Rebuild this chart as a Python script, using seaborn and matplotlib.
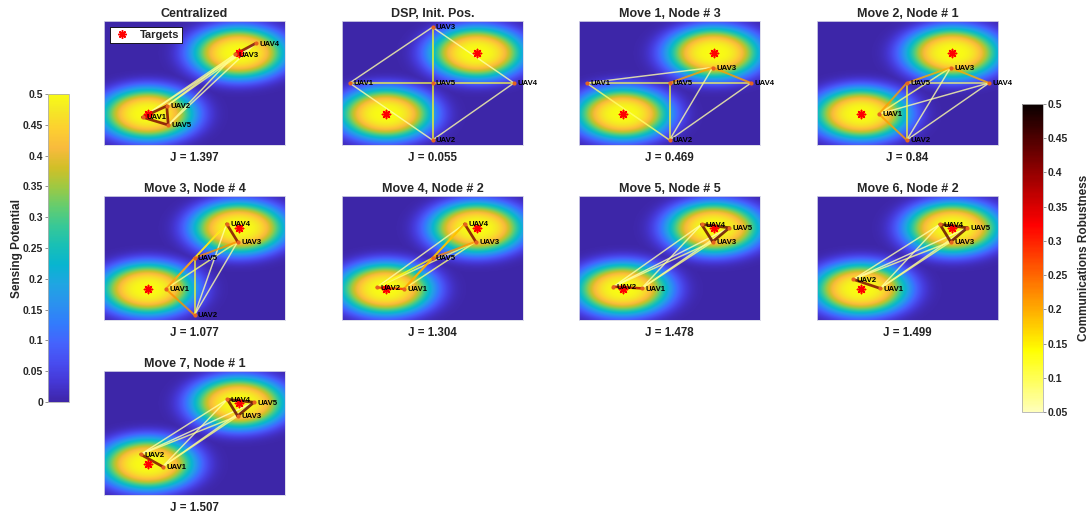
import numpy as np
import pandas as pd
import matplotlib
matplotlib.use("Agg")
import matplotlib.pyplot as plt
import seaborn as sns
from matplotlib.colors import LinearSegmentedColormap, Normalize
from matplotlib.cm import ScalarMappable
from matplotlib.collections import LineCollection
from matplotlib.lines import Line2D

sns.set_theme(style="white")
plt.rcParams["font.family"] = ["Liberation Sans", "DejaVu Sans"]
plt.rcParams["font.weight"] = "bold"

W, H = 1091, 518

# ---- surveillance area and targets -------------------------------------
area_x = (0.0, 12.0)
area_y = (0.0, 8.0)
target_x = [2.9, 8.95]
target_y = [2.0, 5.95]
spread_x = 3.13
spread_y = 1.68
shape_power = 3.2
peak_potential = 0.5

uav_names = ["UAV1", "UAV2", "UAV3", "UAV4", "UAV5"]

panel_titles = ["Centralized", "DSP, Init. Pos.", "Move 1, Node # 3", "Move 2, Node # 1",
                "Move 3, Node # 4", "Move 4, Node # 2", "Move 5, Node # 5",
                "Move 6, Node # 2", "Move 7, Node # 1"]
j_values = [1.397, 0.055, 0.469, 0.84, 1.077, 1.304, 1.478, 1.499, 1.507]

# ---- UAV positions (UAV1 .. UAV5) ----------------------------------------
central_x = [2.56, 4.16, 8.69, 10.06, 4.26]
central_y = [1.79, 2.52, 5.85, 6.56, 1.29]
dsp_x = [0.5, 6.0, 6.0, 11.4, 6.0]
dsp_y = [4.0, 0.32, 7.6, 4.0, 4.0]
move1_x = [0.5, 6.0, 8.86, 11.4, 6.0]
move1_y = [4.0, 0.32, 5.0, 4.0, 4.0]
move2_x = [4.1, 5.95, 8.86, 11.4, 5.95]
move2_y = [2.0, 0.32, 5.0, 4.0, 4.0]
move3_x = [4.1, 6.0, 8.86, 8.13, 6.0]
move3_y = [2.0, 0.32, 5.05, 6.2, 4.0]
move4_x = [4.1, 2.3, 8.87, 8.13, 6.0]
move4_y = [2.0, 2.1, 5.05, 6.2, 4.0]
move5_x = [4.15, 2.28, 8.86, 8.13, 9.97]
move5_y = [2.04, 2.15, 5.05, 6.17, 5.95]
move6_x = [4.18, 2.41, 8.86, 8.15, 9.97]
move6_y = [2.04, 2.62, 5.05, 6.17, 5.95]
move7_x = [3.89, 2.43, 8.86, 8.18, 9.94]
move7_y = [1.83, 2.62, 5.1, 6.17, 5.98]

# ---- communication links: (node a, node b, robustness) ------------------
central_links = [(1, 2, 0.42), (2, 5, 0.42), (1, 5, 0.42), (3, 4, 0.42),
                 (1, 3, 0.07), (1, 4, 0.06), (2, 3, 0.08), (2, 4, 0.07),
                 (5, 3, 0.07), (5, 4, 0.06)]
dsp_links = [(1, 3, 0.06), (3, 4, 0.06), (4, 2, 0.06), (2, 1, 0.06),
             (1, 5, 0.11), (5, 4, 0.11), (3, 5, 0.13), (5, 2, 0.13)]
move1_links = [(1, 3, 0.06), (3, 5, 0.21), (3, 4, 0.21), (1, 5, 0.10),
               (5, 4, 0.10), (5, 2, 0.12), (1, 2, 0.09), (2, 3, 0.06),
               (2, 4, 0.06)]
move2_links = [(1, 5, 0.21), (1, 2, 0.21), (5, 3, 0.20), (3, 4, 0.20),
               (5, 4, 0.09), (5, 2, 0.12), (1, 3, 0.08), (1, 4, 0.06),
               (2, 3, 0.06), (2, 4, 0.06)]
move3_links = [(4, 3, 0.42), (1, 5, 0.22), (1, 2, 0.22), (5, 3, 0.22),
               (5, 4, 0.16), (1, 4, 0.08), (1, 3, 0.08), (2, 5, 0.12),
               (2, 4, 0.06), (2, 3, 0.06)]
move4_links = [(4, 3, 0.42), (2, 1, 0.30), (5, 3, 0.22), (1, 5, 0.20),
               (2, 5, 0.13), (5, 4, 0.16), (1, 4, 0.19), (2, 4, 0.06),
               (2, 3, 0.08), (1, 3, 0.08)]
move5_links = [(4, 5, 0.44), (5, 3, 0.44), (3, 4, 0.44), (2, 1, 0.38),
               (2, 4, 0.06), (2, 3, 0.07), (2, 5, 0.05), (1, 4, 0.06),
               (1, 3, 0.08), (1, 5, 0.06)]
move6_links = [(4, 5, 0.44), (5, 3, 0.44), (3, 4, 0.44), (2, 1, 0.42),
               (2, 4, 0.06), (2, 3, 0.07), (2, 5, 0.05), (1, 4, 0.06),
               (1, 3, 0.08), (1, 5, 0.06)]
move7_links = [(4, 5, 0.44), (5, 3, 0.44), (3, 4, 0.44), (2, 1, 0.42),
               (2, 4, 0.06), (2, 3, 0.07), (2, 5, 0.05), (1, 4, 0.06),
               (1, 3, 0.08), (1, 5, 0.06)]

panel_x = [central_x, dsp_x, move1_x, move2_x, move3_x, move4_x, move5_x, move6_x, move7_x]
panel_y = [central_y, dsp_y, move1_y, move2_y, move3_y, move4_y, move5_y, move6_y, move7_y]
panel_links = [central_links, dsp_links, move1_links, move2_links, move3_links,
               move4_links, move5_links, move6_links, move7_links]

sens_ticks = [0, 0.05, 0.1, 0.15, 0.2, 0.25, 0.3, 0.35, 0.4, 0.45, 0.5]
comm_ticks = [0.05, 0.1, 0.15, 0.2, 0.25, 0.3, 0.35, 0.4, 0.45, 0.5]

# ---- colour maps ----------------------------------------------------------
parula_anchors = [
    (0.2422, 0.1504, 0.6603), (0.2706, 0.2147, 0.8364), (0.2813, 0.3006, 0.9414),
    (0.2699, 0.3892, 0.9906), (0.1963, 0.4847, 0.9892), (0.1687, 0.5703, 0.9359),
    (0.1248, 0.6459, 0.8883), (0.0297, 0.7082, 0.8163), (0.0964, 0.7500, 0.7120),
    (0.2161, 0.7843, 0.5923), (0.3909, 0.8029, 0.4354), (0.6174, 0.7876, 0.2612),
    (0.8203, 0.7498, 0.1535), (0.9728, 0.7298, 0.2394), (0.9892, 0.8136, 0.1885),
    (0.9597, 0.9135, 0.1423), (0.9769, 0.9839, 0.0805)]
parula_pos = [0, 4, 8, 12, 16, 20, 24, 28, 32, 36, 40, 44, 48, 52, 56, 60, 63]
parula = LinearSegmentedColormap.from_list(
    "parula", list(zip([p / 63 for p in parula_pos], parula_anchors)))
sens_norm = Normalize(0, 0.5)

comm_cmap = LinearSegmentedColormap.from_list(
    "comm", plt.cm.hot_r(np.linspace(0.07, 1.0, 256)))
comm_norm = Normalize(0.05, 0.5)

# ---- sensing potential field ---------------------------------------------
gx = np.linspace(area_x[0], area_x[1], 360)
gy = np.linspace(area_y[0], area_y[1], 240)
GX, GY = np.meshgrid(gx, gy)
field = np.zeros_like(GX)
for tx, ty in zip(target_x, target_y):
    r = np.sqrt(((GX - tx) / spread_x) ** 2 + ((GY - ty) / spread_y) ** 2)
    field = np.maximum(field, peak_potential * np.exp(-r ** shape_power))


def draw_panel(ax, xs, ys, links, title, j, show_legend=False):
    ax.imshow(field, extent=(*area_x, *area_y), origin="lower", cmap=parula,
              norm=sens_norm, aspect="auto", interpolation="bilinear", zorder=0)

    ordered = sorted(links, key=lambda l: l[2])
    segs = [[(xs[a - 1], ys[a - 1]), (xs[b - 1], ys[b - 1])] for a, b, _ in ordered]
    vals = np.array([v for _, _, v in ordered])
    lc = LineCollection(segs, colors=comm_cmap(comm_norm(vals)),
                        linewidths=0.9 + 2.5 * vals, alpha=0.8,
                        capstyle="round", zorder=2)
    ax.add_collection(lc)

    tdf = pd.DataFrame({"x": target_x, "y": target_y})
    sns.scatterplot(data=tdf, x="x", y="y", marker=(8, 2, 0), s=34, color="red",
                    edgecolor="red", linewidth=1.15, ax=ax, zorder=3, legend=False)

    ndf = pd.DataFrame({"x": xs, "y": ys})
    sns.scatterplot(data=ndf, x="x", y="y", s=9, color="#e5631f", linewidth=0,
                    ax=ax, zorder=4, legend=False)
    for x, y, name in zip(xs, ys, uav_names):
        ax.annotate(name, (x, y), xytext=(2.5, -0.5), textcoords="offset points",
                    fontsize=5.6, fontweight="bold", color="black",
                    ha="left", va="center", zorder=5)

    ax.set_xlim(area_x)
    ax.set_ylim(area_y)
    ax.set_xticks([])
    ax.set_yticks([])
    ax.set_xlabel("")
    ax.set_ylabel("")
    for sp in ax.spines.values():
        sp.set_edgecolor("#d8d8e8")
        sp.set_linewidth(0.6)
    ax.set_title(title, fontsize=9, fontweight="bold", pad=3)
    ax.text(0.5, -0.105, f"J = {j:g}", transform=ax.transAxes, ha="center",
            va="center", fontsize=8.3, fontweight="bold", color="#222222")

    if show_legend:
        handle = Line2D([], [], marker=(8, 2, 0), color="red", ls="none",
                        markersize=6, markeredgewidth=1.1)
        leg = ax.legend([handle], ["Targets"], loc="upper left", fontsize=8,
                        frameon=True, fancybox=False, framealpha=1,
                        edgecolor="black", borderpad=0.3, handlelength=1.7,
                        handletextpad=0.7, borderaxespad=0.5)
        leg.get_frame().set_linewidth(0.6)


fig = plt.figure(figsize=(W / 100, H / 100), dpi=100)

col_left = [104, 342, 579, 817]
row_top = [21, 196, 371]
pw, ph = 181, 124

for k in range(len(panel_titles)):
    r, c = divmod(k, 4)
    ax = fig.add_axes([col_left[c] / W, 1 - (row_top[r] + ph) / H, pw / W, ph / H])
    draw_panel(ax, panel_x[k], panel_y[k], panel_links[k], panel_titles[k],
               j_values[k], show_legend=(k == 0))

# sensing potential colour bar (left)
cax1 = fig.add_axes([48 / W, 1 - 402 / H, 21 / W, 308 / H])
cb1 = fig.colorbar(ScalarMappable(norm=sens_norm, cmap=parula), cax=cax1)
cb1.set_ticks(sens_ticks)
cb1.set_ticklabels([f"{t:g}" for t in sens_ticks])
cax1.yaxis.set_ticks_position("left")
cax1.yaxis.set_label_position("left")
cax1.tick_params(labelsize=7.5, length=2, width=0.5, pad=1.5, color="#666666")
cb1.set_label("Sensing Potential", fontsize=8.5, fontweight="bold", labelpad=0)
cb1.outline.set_edgecolor("#b0b0b0")
cb1.outline.set_linewidth(0.6)

# communications robustness colour bar (right)
cax2 = fig.add_axes([1022 / W, 1 - 412 / H, 21 / W, 308 / H])
cb2 = fig.colorbar(ScalarMappable(norm=comm_norm, cmap=comm_cmap), cax=cax2)
cb2.set_ticks(comm_ticks)
cb2.set_ticklabels([f"{t:g}" for t in comm_ticks])
cax2.yaxis.set_ticks_position("right")
cax2.yaxis.set_label_position("right")
cax2.tick_params(labelsize=7.5, length=2, width=0.5, pad=1.5, color="#666666")
cb2.set_label("Communications Robustness", fontsize=8.5, fontweight="bold",
              labelpad=7, rotation=90)
cb2.outline.set_edgecolor("#b0b0b0")
cb2.outline.set_linewidth(0.6)

fig.savefig("out.png", dpi=100)
